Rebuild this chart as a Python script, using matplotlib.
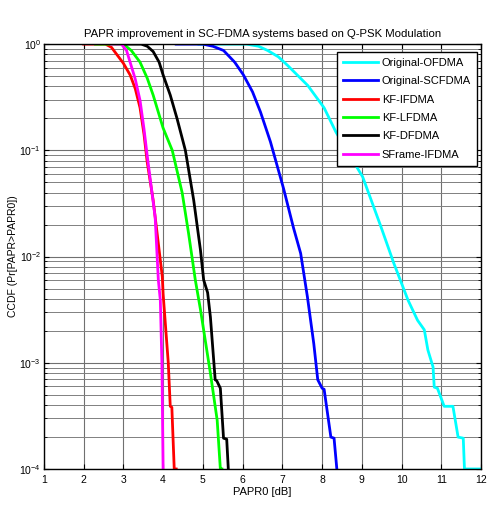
import matplotlib
matplotlib.use("Agg")
import matplotlib.pyplot as plt
import numpy as np

plt.rcParams['font.family'] = ['Liberation Sans', 'DejaVu Sans']
plt.rcParams['mathtext.fontset'] = 'custom'
plt.rcParams['mathtext.rm'] = 'Liberation Sans'
plt.rcParams['mathtext.it'] = 'Liberation Sans'

# PAPR0 [dB] vs log10(CCDF)
ofdma_x = [4.9, 6.1, 6.4, 6.63, 6.9, 7.13, 7.64, 8.05, 8.35, 8.7, 9.02, 9.48, 9.8, 10.16, 10.4, 10.57, 10.66, 10.79,
           10.82, 10.9, 11.07, 11.29, 11.42, 11.55, 11.58, 12.0]
ofdma_y = [0, 0, -0.02, -0.06, -0.12, -0.2, -0.39, -0.6, -0.83, -1.05, -1.25, -1.72, -2.06, -2.41, -2.6, -2.69,
           -2.88, -3.04, -3.23, -3.24, -3.41, -3.41, -3.70, -3.71, -4.0, -4.0]

scfdma_x = [4.33, 5.0, 5.25, 5.52, 5.8, 6.02, 6.25, 6.45, 6.7, 7.03, 7.28, 7.46, 7.63, 7.79, 7.89, 8.0, 8.05,
            8.22, 8.3, 8.37]
scfdma_y = [0, 0, -0.02, -0.06, -0.17, -0.29, -0.45, -0.64, -0.92, -1.36, -1.73, -1.97, -2.38, -2.82, -3.16,
            -3.24, -3.25, -3.70, -3.71, -4.0]

kf_ifdma_x = [2.0, 2.55, 2.7, 2.84, 3.0, 3.17, 3.3, 3.42, 3.52, 3.6, 3.75, 3.98, 4.0, 4.13, 4.18, 4.22, 4.28, 4.33]
kf_ifdma_y = [0, 0, -0.03, -0.10, -0.18, -0.29, -0.42, -0.60, -0.85, -1.11, -1.47, -2.19, -2.35, -3.0, -3.41,
              -3.42, -4.0, -4.0]

kf_lfdma_x = [2.3, 3.0, 3.2, 3.42, 3.6, 3.75, 4.0, 4.23, 4.48, 4.64, 4.81, 4.94, 5.19, 5.36, 5.44, 5.48]
kf_lfdma_y = [0, 0, -0.06, -0.17, -0.32, -0.48, -0.79, -1.0, -1.40, -1.78, -2.22, -2.50, -3.10, -3.54, -4.0, -4.0]

kf_dfdma_x = [3.0, 3.45, 3.6, 3.75, 3.9, 4.0, 4.18, 4.35, 4.56, 4.77, 4.94, 5.02, 5.12, 5.19, 5.31, 5.35, 5.44,
              5.52, 5.6, 5.64]
kf_dfdma_y = [0, 0, -0.02, -0.07, -0.17, -0.29, -0.48, -0.70, -1.0, -1.47, -1.94, -2.22, -2.34, -2.57, -3.16,
              -3.17, -3.24, -3.71, -3.72, -4.0]

sframe_x = [2.7, 2.95, 3.08, 3.17, 3.3, 3.42, 3.52, 3.6, 3.8, 3.88, 3.93, 3.97, 4.0]
sframe_y = [0, 0, -0.06, -0.17, -0.33, -0.53, -0.8, -1.05, -1.63, -2.22, -2.41, -3.0, -4.0]

names = ['Original-OFDMA', 'Original-SCFDMA', 'KF-IFDMA', 'KF-LFDMA', 'KF-DFDMA', 'SFrame-IFDMA']
colors = ['#00ffff', '#0000ff', '#ff0000', '#00ff00', '#000000', '#ff00ff']
series = [(ofdma_x, ofdma_y), (scfdma_x, scfdma_y), (kf_ifdma_x, kf_ifdma_y),
          (kf_lfdma_x, kf_lfdma_y), (kf_dfdma_x, kf_dfdma_y), (sframe_x, sframe_y)]

fig = plt.figure(figsize=(4.87, 5.07), dpi=100)
ax = fig.add_axes([0.090, 0.075, 0.898, 0.838])

for (x, y), c, n in zip(series, colors, names):
    ax.semilogy(x, 10.0 ** np.array(y), color=c, lw=2.0, label=n)

ax.set_xlim(1, 12)
ax.set_ylim(1e-4, 1)
ax.set_xticks(range(1, 13))
ax.grid(True, which='major', color='#707070', lw=0.8)
ax.grid(True, which='minor', axis='y', color='#808080', lw=0.7)
ax.tick_params(which='both', direction='in', top=True, right=True, labelsize=7.5)
ax.tick_params(axis='x', pad=4)
ax.tick_params(axis='y', pad=2)
for s in ax.spines.values():
    s.set_linewidth(1.0)

ax.set_title('PAPR improvement in SC-FDMA systems based on Q-PSK Modulation', fontsize=8.2, pad=5)
ax.set_xlabel('PAPR0 [dB]', fontsize=8, labelpad=2)
ax.set_ylabel('CCDF (Pr[PAPR>PAPR0])', fontsize=7.5, labelpad=1)

leg = ax.legend(loc='upper right', fontsize=8, handlelength=3.2, fancybox=False, framealpha=1,
                edgecolor='black', borderpad=0.55, labelspacing=0.75, handletextpad=0.3,
                bbox_to_anchor=(1.003, 0.995))
leg.get_frame().set_linewidth(1.0)

fig.savefig('out.png', dpi=100)
